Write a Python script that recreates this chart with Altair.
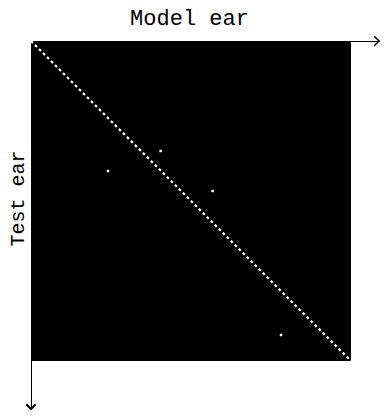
import altair as alt
import pandas as pd

# isolated confusion points (model ear index, test ear index)
model_ear = [19.25, 32.4, 45.4, 62.5]
test_ear = [32.5, 27.5, 37.5, 73.5]

# matrix extent and identity diagonal
matrix_x = [0]
matrix_x2 = [80]
matrix_y = [0]
matrix_y2 = [80]

# axis arrow tips (extent of the axes)
x_axis_end = 87.0
y_axis_end = 92

pts = pd.DataFrame({"model": model_ear, "test": test_ear})
mat = pd.DataFrame({"x": matrix_x, "x2": matrix_x2, "y": matrix_y, "y2": matrix_y2})
tips_r = pd.DataFrame({"x": [x_axis_end], "y": [0]})
tips_d = pd.DataFrame({"x": [0], "y": [y_axis_end]})

xs = alt.Scale(domain=[0, x_axis_end], nice=False, zero=False)
ys = alt.Scale(domain=[0, y_axis_end], nice=False, zero=False, reverse=True)

xaxis = alt.Axis(orient="top", ticks=False, labels=False, grid=False, domainColor="black",
                 title="Model ear", titleFont="Liberation Mono", titleFontSize=22,
                 titleFontWeight="normal", titleColor="black", titleX=158, titleY=-17,
                 titleAlign="center", titleBaseline="alphabetic")
yaxis = alt.Axis(orient="left", ticks=False, labels=False, grid=False, domainColor="black",
                 title="Test ear", titleFont="Liberation Mono", titleFontSize=20,
                 titleFontWeight="normal", titleColor="black", titleX=-8, titleY=157,
                 titleAngle=270, titleAlign="center", titleBaseline="alphabetic")

rect = alt.Chart(mat).mark_rect(color="black").encode(
    x=alt.X("x:Q", scale=xs, axis=xaxis), x2="x2:Q",
    y=alt.Y("y:Q", scale=ys, axis=yaxis), y2="y2:Q")

diag = alt.Chart(mat).mark_rule(color="white", strokeWidth=2.2, strokeDash=[2.8, 2.85],
                                strokeCap="butt").encode(
    x=alt.X("x:Q", scale=xs), x2="x2:Q",
    y=alt.Y("y:Q", scale=ys), y2="y2:Q")

dots = alt.Chart(pts).mark_square(color="white", size=6, opacity=1).encode(
    x=alt.X("model:Q", scale=xs), y=alt.Y("test:Q", scale=ys))

arrow_r = alt.Chart(tips_r).mark_point(shape="M-1,-1L0,0L-1,1", size=90, filled=False,
                                       color="black", strokeWidth=1.5, opacity=1).encode(
    x=alt.X("x:Q", scale=xs), y=alt.Y("y:Q", scale=ys))
arrow_d = alt.Chart(tips_d).mark_point(shape="M-1,-1L0,0L1,-1", size=90, filled=False,
                                       color="black", strokeWidth=2, opacity=1).encode(
    x=alt.X("x:Q", scale=xs), y=alt.Y("y:Q", scale=ys))

chart = alt.layer(rect, diag, dots, arrow_r, arrow_d).properties(
    width=348, height=368,
    autosize=alt.AutoSizeParams(type="none"),
    padding={"left": 23, "top": 33, "right": 2, "bottom": 2},
    background="white",
).configure_view(stroke=None)

chart.save("out.html", embed_options={"renderer": "svg", "actions": False})
